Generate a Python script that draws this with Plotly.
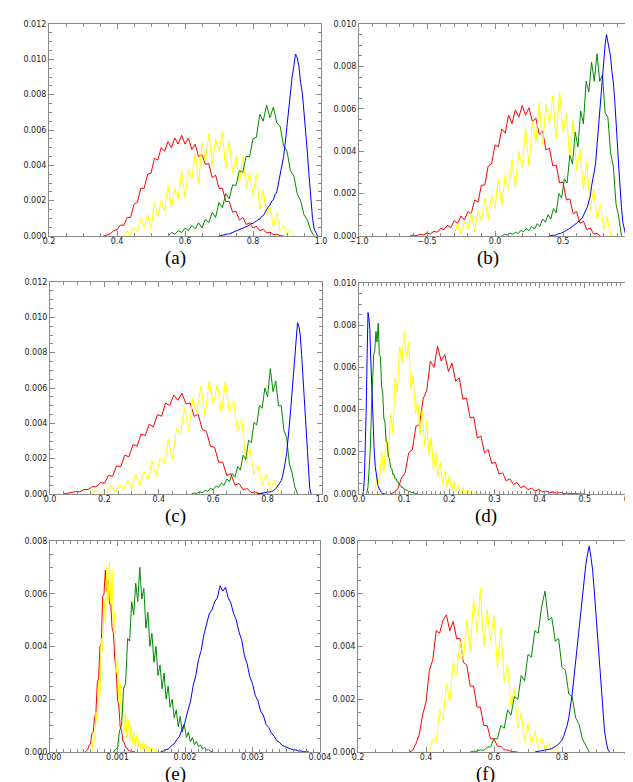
import plotly.graph_objects as go

# ---------------- data (y values in units of 1e-3, bins evenly spaced: start x0, width dx) -------------
# panel (a)
red_a = [0, 0.08, 0.12, 0.3, 0.35, 0.62, 0.6, 1.05, 1.05, 1.8, 1.9, 2.7, 2.7, 3.5, 3.55, 4.4, 4.3, 5.0, 4.8, 5.35,
         5.0, 5.55, 5.2, 5.7, 5.2, 5.55, 4.9, 5.2, 4.5, 4.6, 4.05, 4.1, 3.3, 3.45, 2.7, 2.7, 1.95, 1.95, 1.35, 1.4,
         0.9, 1.05, 0.65, 0.75, 0.45, 0.55, 0.3, 0.38, 0.17, 0.22, 0.08, 0.1, 0.02, 0]
yellow_a = [0, 0.3, 0.05, 0.5, 0.2, 1.0, 0.5, 1.2, 0.4, 1.9, 1.1, 2.0, 1.4, 2.9, 1.6, 2.7, 2.1, 3.7, 2.2, 3.8,
            3.2, 4.7, 3.0, 5.3, 4.2, 5.8, 4.0, 5.5, 4.8, 5.9, 3.8, 5.4, 3.6, 4.5, 3.0, 4.5, 2.7, 3.6, 2.3, 3.5,
            1.5, 2.6, 1.2, 1.8, 0.5, 1.3, 0.3, 0.6, 0.1, 0.3, 0, 0]
green_a = [0.0, 0.2, 0.1, 0.3, 0.2, 0.45, 0.3, 0.6, 0.4, 0.75, 0.45, 0.95, 0.75, 1.35, 1.05, 1.9, 1.6, 2.4, 2.1, 2.9,
           2.85, 3.7, 3.6, 4.5, 4.5, 5.5, 5.6, 6.9, 6.5, 7.4, 6.7, 7.3, 6.4, 6.2, 5.1, 4.8, 3.7, 3.4, 2.4, 2.0,
           1.2, 0.9, 0.3, 0.0]
blue_a = [0, 0.03, 0.04, 0.07, 0.08, 0.11, 0.12, 0.16, 0.18, 0.22, 0.25, 0.3, 0.33, 0.38, 0.41, 0.47, 0.5, 0.57,
          0.62, 0.72, 0.7, 0.8, 0.83, 0.94, 0.95, 1.1, 1.15, 1.34, 1.45, 1.65, 1.75, 1.98, 2.05, 2.35, 2.5, 2.95,
          3.4, 4.05, 4.5, 5.3, 6.2, 7.4, 8.1, 9.0, 9.6, 10.3, 10.1, 9.6, 8.7, 8.1, 7.0, 6.0, 4.7, 3.4, 2.0, 1.0,
          0.4, 0.15, 0]

# panel (b)
red_b = [0, 0.04, 0.02, 0.09, 0.05, 0.14, 0.1, 0.22, 0.18, 0.36, 0.3, 0.5, 0.4, 0.72, 0.6, 0.95, 0.75, 1.15, 1.05,
         1.7, 1.6, 2.4, 2.4, 3.3, 3.4, 4.3, 4.2, 5.05, 4.85, 5.7, 5.3, 5.95, 5.6, 6.15, 5.7, 6.05, 5.4, 5.55, 4.8,
         4.95, 4.05, 4.15, 3.3, 3.35, 2.5, 2.55, 1.7, 1.75, 1.05, 1.15, 0.6, 0.7, 0.3, 0.38, 0.1, 0.12, 0]
yellow_b = [0, 0.6, 0.1, 0.7, 0.3, 1.1, 0.2, 1.2, 0.7, 1.8, 0.8, 1.9, 1.3, 2.7, 1.4, 2.9, 2.2, 3.6, 2.3, 4.0,
            3.2, 5.1, 3.3, 5.4, 4.4, 6.3, 4.3, 6.2, 5.3, 6.6, 4.6, 6.8, 4.9, 5.8, 3.6, 5.5, 3.1, 4.1, 2.2, 3.5,
            1.2, 2.2, 0.8, 1.5, 0.3, 0.9, 0.05, 0]
green_b = [0, 0.08, 0.05, 0.14, 0.08, 0.18, 0.12, 0.26, 0.2, 0.34, 0.25, 0.45, 0.32, 0.58, 0.45, 0.8, 0.65, 1.0,
           0.8, 1.3, 1.1, 2.0, 1.8, 2.7, 2.5, 3.8, 3.4, 4.9, 4.2, 5.9, 5.3, 7.3, 6.8, 8.2, 7.3, 8.6, 7.3, 7.6, 5.8,
           5.6, 3.9, 3.3, 1.5, 0.9, 0]
blue_b = [0, 0.02, 0.01, 0.04, 0.03, 0.07, 0.07, 0.11, 0.11, 0.16, 0.16, 0.22, 0.23, 0.3, 0.31, 0.38, 0.39, 0.47,
          0.48, 0.57, 0.58, 0.68, 0.7, 0.8, 0.83, 0.98, 1.08, 1.28, 1.38, 1.65, 1.85, 2.35, 2.65, 3.05, 3.45, 4.25,
          4.85, 5.65, 6.45, 7.55, 8.35, 9.05, 9.5, 9.2, 8.9, 8.45, 7.75, 7.25, 6.45, 5.55, 4.35, 3.25, 2.15, 1.35,
          0.65, 0.32, 0.08, 0]

# panel (c)
red_c = [0, 0.05, 0.06, 0.14, 0.12, 0.26, 0.25, 0.42, 0.4, 0.65, 0.6, 1.05, 1.0, 1.6, 1.55, 2.2, 2.1, 2.8, 2.7, 3.4,
         3.3, 3.95, 3.8, 4.5, 4.4, 5.15, 5.0, 5.6, 5.3, 5.7, 5.1, 5.15, 4.4, 4.5, 3.65, 3.55, 2.7, 2.65, 1.8, 1.8,
         1.05, 1.15, 0.5, 0.6, 0.25, 0.3, 0.08, 0.1, 0.02, 0]
yellow_c = [0, 0.2, 0.05, 0.25, 0.1, 0.5, 0.1, 0.5, 0.25, 0.8, 0.3, 1.1, 0.5, 1.3, 0.8, 1.9, 1.0, 2.1, 1.7, 3.1,
            2.0, 3.7, 3.4, 4.9, 3.6, 5.4, 4.6, 6.1, 4.4, 6.4, 5.1, 6.2, 4.6, 6.4, 4.6, 5.3, 3.5, 4.2, 1.8, 2.6,
            1.1, 1.6, 0.5, 1.1, 0.2, 0.8, 0.0, 0]
green_c = [0, 0.06, 0.04, 0.12, 0.08, 0.2, 0.15, 0.32, 0.25, 0.45, 0.38, 0.62, 0.5, 0.85, 0.7, 1.15, 0.95, 1.55,
           1.35, 2.2, 1.95, 3.05, 2.9, 4.05, 3.9, 5.0, 4.85, 6.0, 5.5, 7.1, 5.8, 6.4, 5.0, 5.0, 3.6, 3.2, 1.7, 1.2,
           0.4, 0]
blue_c = [0, 0.01, 0.02, 0.03, 0.04, 0.05, 0.06, 0.07, 0.08, 0.1, 0.12, 0.14, 0.17, 0.22, 0.3, 0.4, 0.5, 0.62,
          0.75, 1.0, 1.35, 1.8, 2.3, 3.0, 3.9, 4.8, 5.8, 6.9, 8.0, 9.0, 9.7, 9.5, 9.0, 7.9, 6.6, 5.3, 3.8, 2.3, 1.0,
          0.3, 0]

# panel (d)
red_d = [0, 0.08, 0.25, 0.75, 1.0, 1.95, 2.1, 3.2, 3.3, 4.5, 4.9, 6.3, 6.0, 7.0, 6.3, 6.6, 5.8, 6.2, 5.35, 5.5,
         4.5, 4.55, 3.6, 3.65, 2.65, 2.75, 1.95, 2.1, 1.45, 1.5, 0.95, 1.0, 0.62, 0.72, 0.45, 0.55, 0.3, 0.38, 0.2,
         0.28, 0.14, 0.22, 0.1, 0.14, 0.06, 0.1, 0.04, 0.07, 0.02, 0.05, 0.01, 0.03, 0.0, 0.01, 0]
yellow_d = [0, 0.9, 0.5, 2.0, 1.0, 2.7, 1.6, 3.8, 2.9, 5.5, 4.8, 7.0, 6.2, 7.7, 6.5, 7.2, 5.0, 5.6, 3.8, 4.4,
            2.8, 4.0, 2.3, 3.5, 1.8, 2.7, 1.1, 2.0, 0.8, 1.5, 0.5, 1.1, 0.3, 0.9, 0.2, 0.6, 0.1, 0.45, 0.05, 0.3,
            0.02, 0.2, 0.0, 0.15, 0.0, 0.1, 0.0, 0.06, 0.0, 0]
green_d = [0, 0.05, 0.35, 1.2, 2.1, 4.0, 5.0, 6.6, 6.8, 7.7, 7.2, 8.1, 6.6, 6.5, 5.1, 4.8, 3.6, 3.4, 2.5, 2.45,
           1.75, 1.7, 1.25, 1.22, 0.92, 0.93, 0.72, 0.72, 0.56, 0.56, 0.41, 0.41, 0.3, 0.31, 0.22, 0.23, 0.16, 0.16,
           0.12, 0.12, 0.08, 0.08, 0.05, 0.05, 0.03, 0.02, 0]
blue_d = [0, 0.1, 0.8, 2.2, 4.0, 6.6, 8.6, 8.3, 7.8, 6.4, 5.0, 3.7, 2.7, 1.9, 1.3, 0.9, 0.6, 0.4, 0.28, 0.18, 0.1,
          0.06, 0.03, 0.02, 0.01, 0]

# panel (e)
red_e = [0, 0.06, 0.1, 0.26, 0.3, 0.7, 0.75, 1.3, 1.5, 2.6, 2.8, 4.0, 4.1, 5.9, 6.0, 6.9, 6.1, 6.5, 5.6, 5.6,
         4.7, 4.5, 3.5, 3.2, 2.0, 1.75, 0.95, 0.85, 0.4, 0.36, 0.18, 0.16, 0.06, 0.06, 0.02, 0.02, 0, 0]
yellow_e = [0, 0.5, 0.4, 1.5, 1.1, 2.7, 2.2, 4.3, 3.8, 5.8, 4.9, 7.0, 5.7, 7.2, 5.6, 6.9, 4.6, 5.3, 3.0, 3.5,
            1.9, 2.6, 1.2, 1.9, 0.8, 1.5, 0.5, 1.2, 0.4, 1.0, 0.3, 0.8, 0.2, 0.65, 0.15, 0.5, 0.1, 0.4, 0.08, 0.33,
            0.05, 0.25, 0.03, 0.2, 0.02, 0.15, 0.01, 0.1, 0.0, 0.06, 0.0, 0.03, 0]
green_e = [0, 0.1, 0.15, 0.8, 1.0, 2.4, 2.6, 4.3, 4.2, 5.7, 5.2, 6.4, 5.7, 7.0, 5.8, 6.2, 4.7, 5.3, 4.0, 4.5,
           3.4, 4.0, 2.9, 3.3, 2.4, 3.0, 2.0, 2.5, 1.7, 2.0, 1.3, 1.6, 0.95, 1.35, 0.75, 1.05, 0.55, 0.75, 0.38,
           0.55, 0.28, 0.4, 0.2, 0.27, 0.12, 0.17, 0.07, 0.09, 0.03, 0]
blue_e = [0, 0.04, 0.09, 0.13, 0.24, 0.31, 0.47, 0.6, 0.88, 1.12, 1.55, 1.9, 2.5, 2.9, 3.5, 3.85, 4.45, 4.8, 5.25,
          5.4, 5.7, 5.85, 6.3, 6.1, 6.25, 5.85, 5.65, 5.25, 5.0, 4.55, 4.25, 3.65, 3.35, 2.85, 2.6, 2.15, 1.95,
          1.55, 1.4, 1.05, 0.93, 0.72, 0.6, 0.43, 0.37, 0.25, 0.21, 0.14, 0.13, 0.08, 0.08, 0.04, 0.04, 0.01,
          0.01, 0]

# panel (f)
red_f = [0, 0.05, 0.3, 0.65, 1.4, 1.9, 3.1, 3.5, 4.6, 4.5, 5.0, 5.2, 4.6, 4.95, 4.3, 4.3, 3.4, 3.3, 2.5, 2.5,
         1.7, 1.7, 1.0, 1.0, 0.5, 0.5, 0.22, 0.22, 0.08, 0.08, 0.02, 0.02, 0]
yellow_f = [0, 0.5, 0.4, 1.6, 1.2, 2.6, 1.9, 3.4, 2.9, 4.2, 3.5, 5.0, 3.8, 5.8, 4.5, 6.2, 4.0, 5.4, 4.2, 5.2,
            3.2, 4.7, 2.7, 3.3, 1.7, 2.4, 0.9, 1.5, 0.4, 1.1, 0.3, 0.8, 0.15, 0.55, 0.1, 0.35, 0.05, 0.2, 0.0, 0]
green_f = [0, 0.03, 0.03, 0.08, 0.06, 0.18, 0.2, 0.5, 0.5, 1.0, 0.9, 1.6, 1.4, 2.1, 2.0, 2.9, 2.7, 3.7, 3.6, 4.6,
           4.5, 5.5, 6.1, 5.0, 5.1, 4.2, 4.3, 3.2, 3.1, 2.2, 2.1, 1.3, 1.05, 0.5, 0.25, 0]
blue_f = [0, 0.01, 0.02, 0.03, 0.04, 0.05, 0.06, 0.07, 0.09, 0.11, 0.13, 0.16, 0.2, 0.25, 0.3, 0.36, 0.45, 0.6,
          0.8, 1.0, 1.3, 1.7, 2.2, 2.8, 3.4, 4.0, 4.6, 5.3, 6.0, 6.6, 7.1, 7.5, 7.8, 7.4, 6.9, 6.1, 5.2, 4.2, 3.2,
          2.3, 1.4, 0.8, 0.4, 0.1, 0]

# bin starts / widths for each series
bins = {
    "red_a": (0.36, 0.01), "yellow_a": (0.42, 0.01), "green_a": (0.55, 0.01), "blue_a": (0.70, 0.005),
    "red_b": (-0.625, 0.025), "yellow_b": (-0.30, 0.025), "green_b": (0.05, 0.02), "blue_b": (0.40, 0.01),
    "red_c": (0.05, 0.015), "yellow_c": (0.15, 0.015), "green_c": (0.52, 0.01), "blue_c": (0.76, 0.005),
    "red_d": (0.07, 0.008), "yellow_d": (0.035, 0.005), "green_d": (0.015, 0.0025), "blue_d": (0.008, 0.002),
    "red_e": (0.00052, 0.00002), "yellow_e": (0.00062, 0.00002), "green_e": (0.00094, 0.00003),
    "blue_e": (0.00164, 0.00004),
    "red_f": (0.35, 0.01), "yellow_f": (0.41, 0.01), "green_f": (0.53, 0.01), "blue_f": (0.72, 0.005),
}
series = {
    "a": [("red_a", red_a), ("yellow_a", yellow_a), ("green_a", green_a), ("blue_a", blue_a)],
    "b": [("red_b", red_b), ("yellow_b", yellow_b), ("green_b", green_b), ("blue_b", blue_b)],
    "c": [("red_c", red_c), ("yellow_c", yellow_c), ("green_c", green_c), ("blue_c", blue_c)],
    "d": [("red_d", red_d), ("yellow_d", yellow_d), ("green_d", green_d), ("blue_d", blue_d)],
    "e": [("red_e", red_e), ("yellow_e", yellow_e), ("green_e", green_e), ("blue_e", blue_e)],
    "f": [("red_f", red_f), ("yellow_f", yellow_f), ("green_f", green_f), ("blue_f", blue_f)],
}
panel_labels = ["(a)", "(b)", "(c)", "(d)", "(e)", "(f)"]

# ---------------- styling / layout -------------
colors = {"red": "#ff0000", "yellow": "#ffff00", "green": "#008a00", "blue": "#0000ff"}
W, H = 633, 782

# pixel boxes (left, right, top, bottom)
boxes = {
    "a": (41, 313, 16, 228), "b": (351, 623, 16, 228),
    "c": (42, 314, 274, 486), "d": (351, 622, 275, 486),
    "e": (42, 312, 533, 744), "f": (350, 622, 533, 744),
}
axis_cfg = {
    "a": dict(xr=[0.2, 1.0], xd=0.2, xm=0.05, xf=".1f", yr=[0, 0.012], yd=0.002, ym=0.0005),
    "b": dict(xr=[-1.0, 1.0], xd=0.5, xm=0.1, xf=".1f", yr=[0, 0.010], yd=0.002, ym=0.0005),
    "c": dict(xr=[0.0, 1.0], xd=0.2, xm=0.05, xf=".1f", yr=[0, 0.012], yd=0.002, ym=0.0005),
    "d": dict(xr=[0.0, 0.6], xd=0.1, xm=0.01, xf=".1f", yr=[0, 0.010], yd=0.002, ym=0.0005),
    "e": dict(xr=[0.0, 0.004], xd=0.001, xm=0.0001, xf=".3f", yr=[0, 0.008], yd=0.002, ym=0.0005),
    "f": dict(xr=[0.2, 1.0], xd=0.2, xm=0.05, xf=".1f", yr=[0, 0.008], yd=0.002, ym=0.0005),
}
label_pos = {"a": (167, 250), "b": (480, 250), "c": (167, 508), "d": (478, 508), "e": (167, 766), "f": (477, 766)}

frame = "#8a8a8a"
tickfont = dict(family="DejaVu Sans", size=8, color="#1a1a1a")

fig = go.Figure()
layout = dict(width=W, height=H, margin=dict(l=0, r=0, t=0, b=0, autoexpand=False), paper_bgcolor="white",
              plot_bgcolor="white", showlegend=False, annotations=[])

for i, key in enumerate(["a", "b", "c", "d", "e", "f"]):
    n = i + 1
    xa = "x" if n == 1 else f"x{n}"
    ya = "y" if n == 1 else f"y{n}"
    for name, vals in series[key]:
        x0, dx = bins[name]
        xs = [x0 + j * dx for j in range(len(vals))]
        ys = [v * 1e-3 for v in vals]
        fig.add_trace(go.Scatter(x=xs, y=ys, mode="lines", xaxis=xa, yaxis=ya,
                                 line=dict(color=colors[name.split("_")[0]], width=1),
                                 hoverinfo="skip"))
    l, r, t, b = boxes[key]
    c = axis_cfg[key]
    common = dict(showline=True, linecolor=frame, linewidth=1, mirror="allticks", ticks="inside",
                  ticklen=5, tickwidth=1, tickcolor=frame, showgrid=False, zeroline=False,
                  tickfont=tickfont, automargin=False)
    layout["xaxis" if n == 1 else f"xaxis{n}"] = dict(
        domain=[l / W, r / W], anchor=ya, range=c["xr"], tick0=0, dtick=c["xd"], tickformat=c["xf"],
        ticklabelstandoff=-3,
        minor=dict(ticks="inside", ticklen=3, tickcolor=frame, dtick=c["xm"], tick0=0, showgrid=False),
        **common)
    layout["yaxis" if n == 1 else f"yaxis{n}"] = dict(
        domain=[1 - b / H, 1 - t / H], anchor=xa, range=c["yr"], tick0=0, dtick=c["yd"], tickformat=".3f",
        minor=dict(ticks="inside", ticklen=3, tickcolor=frame, dtick=c["ym"], tick0=0, showgrid=False),
        **common)
    lx, ly = label_pos[key]
    layout["annotations"].append(dict(text=panel_labels[i], x=lx / W, y=1 - ly / H, xref="paper", yref="paper",
                                      showarrow=False, xanchor="center", yanchor="middle",
                                      font=dict(family="Liberation Serif", size=19, color="black")))

fig.update_layout(**layout)
fig.write_html("out.html")
